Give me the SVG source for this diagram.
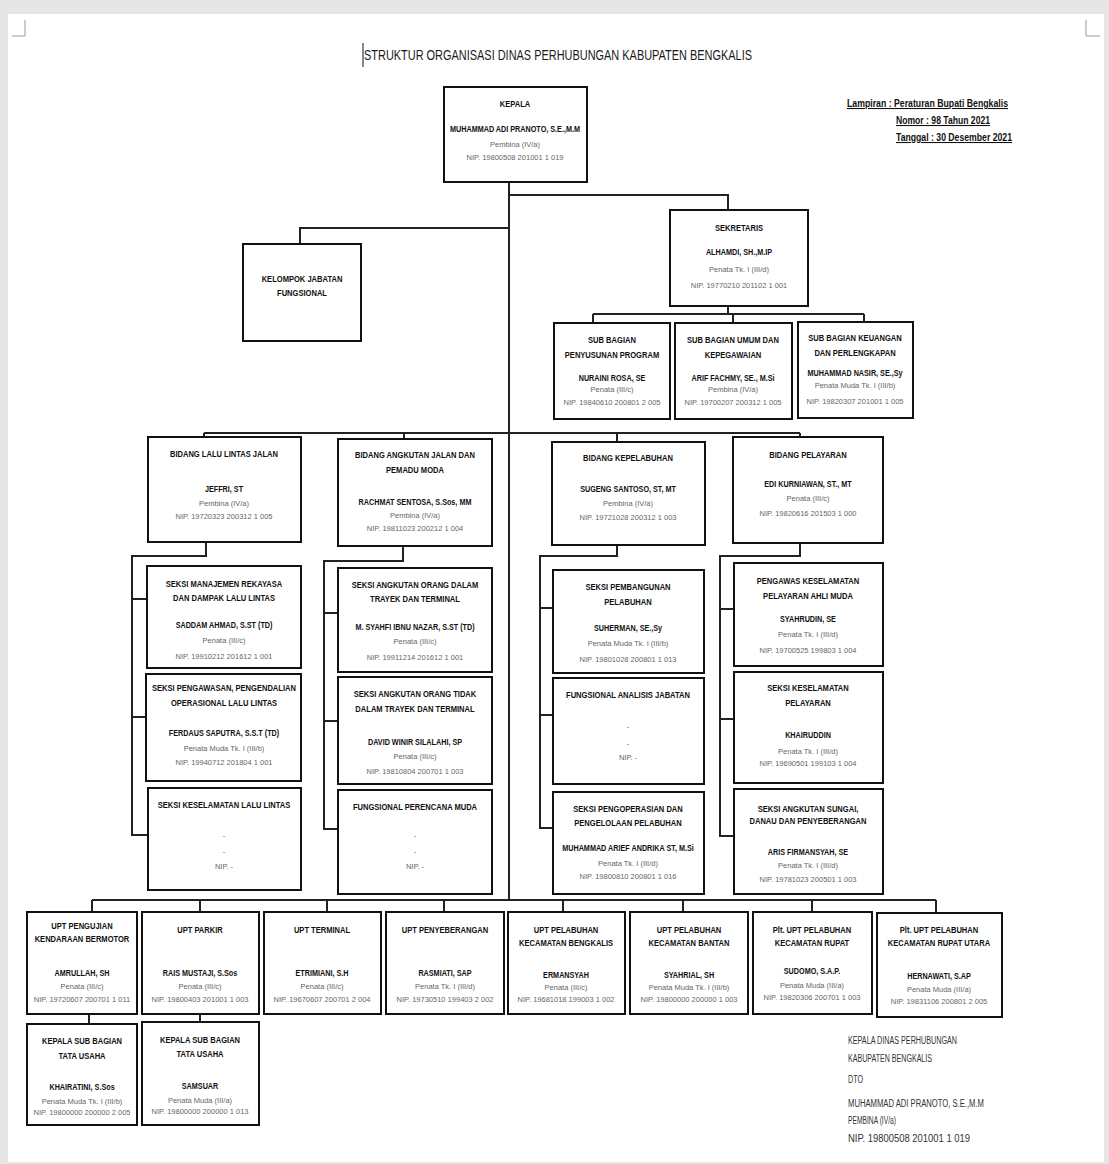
<svg xmlns="http://www.w3.org/2000/svg" width="1109" height="1164" viewBox="0 0 1109 1164">
<style>
.bx{fill:#fff;stroke:#111;stroke-width:2}
.cn{fill:none;stroke:#222;stroke-width:2}
text{font-family:"Liberation Sans Narrow","Liberation Sans",Arial,sans-serif;text-anchor:middle}
.t{font-size:8.8px;font-weight:bold;fill:#111;transform:scaleX(0.86);transform-box:fill-box;transform-origin:center}
.n{font-size:8.4px;font-weight:bold;fill:#111;transform:scaleX(0.86);transform-box:fill-box;transform-origin:center}
.r{font-size:7.5px;fill:#666}
.s{font-size:10px;fill:#333;text-anchor:start}
.l{font-size:10.5px;font-weight:bold;fill:#111;text-anchor:start;text-decoration:underline}
</style>
<rect x="0" y="0" width="1109" height="1164" fill="#e6e6e6"/>
<rect x="8" y="14" width="1096" height="1148" fill="#fff"/>
<path d="M25,20 V36 H12 M1086,20 V36 H1100" fill="none" stroke="#999" stroke-width="1"/>
<line x1="363" y1="43" x2="363" y2="67" stroke="#111" stroke-width="1"/>
<text x="364" y="60" style="font-size:15px;fill:#1a1a1a;text-anchor:start" textLength="388" lengthAdjust="spacingAndGlyphs">STRUKTUR ORGANISASI DINAS PERHUBUNGAN KABUPATEN BENGKALIS</text>
<g id="lampiran">
<text class="l" x="847" y="107" textLength="161" lengthAdjust="spacingAndGlyphs">Lampiran : Peraturan Bupati Bengkalis</text>
<text class="l" x="896" y="124" textLength="94" lengthAdjust="spacingAndGlyphs">Nomor : 98 Tahun 2021</text>
<text class="l" x="896" y="141" textLength="116" lengthAdjust="spacingAndGlyphs">Tanggal : 30 Desember 2021</text>
</g>
<g id="connectors">
<path class="cn" d="M509,182 V900 M509,195 H728 V210 M509,228 H300 V244"/>
<path class="cn" d="M728,306 V314 M593,314 H864 M593,314 V323 M733,314 V323 M864,314 V322"/>
<path class="cn" d="M204,433 H800 M204,433 V437 M404,433 V439 M617,433 V442 M800,433 V437"/>
<path class="cn" d="M206,542 V556 H132 V835 H148 M132,599 H147 M132,717 H146"/>
<path class="cn" d="M403,546 V561 H324 V829 H338 M324,613 H338 M324,721 H338"/>
<path class="cn" d="M617,545 V556 H540 V828 H553 M540,608 H553 M540,715 H553"/>
<path class="cn" d="M800,543 V556 H720 V836 H734 M720,609 H734 M720,719 H734"/>
<path class="cn" d="M92,900 H936 M92,900 V912 M200,900 V912 M327,900 V912 M444,900 V912 M563,900 V912 M683,900 V912 M812,900 V912 M936,900 V912"/>
<path class="cn" d="M89,1014 V1024 M200,1014 V1022"/>
</g>
<g id="kepala"><rect class="bx" x="444" y="87" width="143" height="95"/>
<text class="t" x="515" y="107">KEPALA</text>
<text class="n" x="515" y="132">MUHAMMAD ADI PRANOTO, S.E.,M.M</text>
<text class="r" x="515" y="147">Pembina (IV/a)</text>
<text class="r" x="515" y="160">NIP. 19800508 201001 1 019</text></g>
<g id="sekretaris"><rect class="bx" x="670" y="210" width="138" height="96"/>
<text class="t" x="739" y="231">SEKRETARIS</text>
<text class="n" x="739" y="255">ALHAMDI, SH.,M.IP</text>
<text class="r" x="739" y="272">Penata Tk. I (III/d)</text>
<text class="r" x="739" y="288">NIP. 19770210 201102 1 001</text></g>
<g id="kelompok"><rect class="bx" x="243" y="244" width="118" height="97"/>
<text class="t" x="302" y="282">KELOMPOK JABATAN</text>
<text class="t" x="302" y="296">FUNGSIONAL</text></g>
<g id="sub-program"><rect class="bx" x="554" y="323" width="116" height="96"/>
<text class="t" x="612" y="343">SUB BAGIAN</text>
<text class="t" x="612" y="358">PENYUSUNAN PROGRAM</text>
<text class="n" x="612" y="381">NURAINI ROSA, SE</text>
<text class="r" x="612" y="392">Penata (III/c)</text>
<text class="r" x="612" y="405">NIP. 19840610 200801 2 005</text></g>
<g id="sub-umum"><rect class="bx" x="675" y="323" width="117" height="96"/>
<text class="t" x="733" y="343">SUB BAGIAN UMUM DAN</text>
<text class="t" x="733" y="358">KEPEGAWAIAN</text>
<text class="n" x="733" y="381">ARIF FACHMY, SE., M.Si</text>
<text class="r" x="733" y="392">Pembina (IV/a)</text>
<text class="r" x="733" y="405">NIP. 19700207 200312 1 005</text></g>
<g id="sub-keuangan"><rect class="bx" x="798" y="322" width="115" height="96"/>
<text class="t" x="855" y="341">SUB BAGIAN KEUANGAN</text>
<text class="t" x="855" y="356">DAN PERLENGKAPAN</text>
<text class="n" x="855" y="376">MUHAMMAD NASIR, SE.,Sy</text>
<text class="r" x="855" y="388">Penata Muda Tk. I (III/b)</text>
<text class="r" x="855" y="404">NIP. 19820307 201001 1 005</text></g>
<g id="bidang-lalu-lintas"><rect class="bx" x="148" y="437" width="153" height="105"/>
<text class="t" x="224" y="457">BIDANG LALU LINTAS JALAN</text>
<text class="n" x="224" y="492">JEFFRI, ST</text>
<text class="r" x="224" y="506">Pembina (IV/a)</text>
<text class="r" x="224" y="519">NIP. 19720323 200312 1 005</text></g>
<g id="bidang-angkutan"><rect class="bx" x="338" y="439" width="154" height="107"/>
<text class="t" x="415" y="458">BIDANG ANGKUTAN JALAN DAN</text>
<text class="t" x="415" y="473">PEMADU MODA</text>
<text class="n" x="415" y="505">RACHMAT SENTOSA, S.Sos, MM</text>
<text class="r" x="415" y="518">Pembina (IV/a)</text>
<text class="r" x="415" y="531">NIP. 19811023 200212 1 004</text></g>
<g id="bidang-kepelabuhan"><rect class="bx" x="552" y="442" width="153" height="103"/>
<text class="t" x="628" y="461">BIDANG KEPELABUHAN</text>
<text class="n" x="628" y="492">SUGENG SANTOSO, ST, MT</text>
<text class="r" x="628" y="506">Pembina (IV/a)</text>
<text class="r" x="628" y="520">NIP. 19721028 200312 1 003</text></g>
<g id="bidang-pelayaran"><rect class="bx" x="733" y="437" width="150" height="106"/>
<text class="t" x="808" y="458">BIDANG PELAYARAN</text>
<text class="n" x="808" y="487">EDI KURNIAWAN, ST., MT</text>
<text class="r" x="808" y="501">Penata (III/c)</text>
<text class="r" x="808" y="516">NIP. 19820616 201503 1 000</text></g>
<g id="seksi-manajemen"><rect class="bx" x="147" y="566" width="154" height="102"/>
<text class="t" x="224" y="587">SEKSI MANAJEMEN REKAYASA</text>
<text class="t" x="224" y="601">DAN DAMPAK LALU LINTAS</text>
<text class="n" x="224" y="628">SADDAM AHMAD, S.ST (TD)</text>
<text class="r" x="224" y="643">Penata (III/c)</text>
<text class="r" x="224" y="659">NIP. 19910212 201612 1 001</text></g>
<g id="seksi-pengawasan"><rect class="bx" x="146" y="674" width="155" height="107"/>
<text class="t" x="224" y="691">SEKSI PENGAWASAN, PENGENDALIAN</text>
<text class="t" x="224" y="706">OPERASIONAL LALU LINTAS</text>
<text class="n" x="224" y="736">FERDAUS SAPUTRA, S.S.T (TD)</text>
<text class="r" x="224" y="751">Penata Muda Tk. I (III/b)</text>
<text class="r" x="224" y="765">NIP. 19940712 201804 1 001</text></g>
<g id="seksi-keselamatan-lalu-lintas"><rect class="bx" x="148" y="788" width="153" height="102"/>
<text class="t" x="224" y="808">SEKSI KESELAMATAN LALU LINTAS</text>
<text class="r" x="224" y="838">-</text>
<text class="r" x="224" y="854">-</text>
<text class="r" x="224" y="869">NIP. -</text></g>
<g id="seksi-angkutan-trayek"><rect class="bx" x="338" y="568" width="154" height="104"/>
<text class="t" x="415" y="588">SEKSI ANGKUTAN ORANG DALAM</text>
<text class="t" x="415" y="602">TRAYEK DAN TERMINAL</text>
<text class="n" x="415" y="630">M. SYAHFI IBNU NAZAR, S.ST (TD)</text>
<text class="r" x="415" y="644">Penata (III/c)</text>
<text class="r" x="415" y="660">NIP. 19911214 201612 1 001</text></g>
<g id="seksi-angkutan-tidak-trayek"><rect class="bx" x="338" y="677" width="154" height="107"/>
<text class="t" x="415" y="697">SEKSI ANGKUTAN ORANG TIDAK</text>
<text class="t" x="415" y="712">DALAM TRAYEK DAN TERMINAL</text>
<text class="n" x="415" y="745">DAVID WINIR SILALAHI, SP</text>
<text class="r" x="415" y="759">Penata (III/c)</text>
<text class="r" x="415" y="774">NIP. 19810804 200701 1 003</text></g>
<g id="fungsional-perencana"><rect class="bx" x="338" y="790" width="154" height="104"/>
<text class="t" x="415" y="810">FUNGSIONAL PERENCANA MUDA</text>
<text class="r" x="415" y="838">-</text>
<text class="r" x="415" y="854">-</text>
<text class="r" x="415" y="869">NIP. -</text></g>
<g id="seksi-pembangunan"><rect class="bx" x="553" y="570" width="151" height="103"/>
<text class="t" x="628" y="590">SEKSI PEMBANGUNAN</text>
<text class="t" x="628" y="605">PELABUHAN</text>
<text class="n" x="628" y="631">SUHERMAN, SE.,Sy</text>
<text class="r" x="628" y="646">Penata Muda Tk. I (III/b)</text>
<text class="r" x="628" y="662">NIP. 19801028 200801 1 013</text></g>
<g id="fungsional-analisis"><rect class="bx" x="553" y="678" width="151" height="106"/>
<text class="t" x="628" y="698">FUNGSIONAL ANALISIS JABATAN</text>
<text class="r" x="628" y="729">-</text>
<text class="r" x="628" y="746">-</text>
<text class="r" x="628" y="760">NIP. -</text></g>
<g id="seksi-pengoperasian"><rect class="bx" x="553" y="792" width="151" height="102"/>
<text class="t" x="628" y="812">SEKSI PENGOPERASIAN DAN</text>
<text class="t" x="628" y="826">PENGELOLAAN PELABUHAN</text>
<text class="n" x="628" y="851">MUHAMMAD ARIEF ANDRIKA ST, M.Si</text>
<text class="r" x="628" y="866">Penata Tk. I (III/d)</text>
<text class="r" x="628" y="879">NIP. 19800810 200801 1 016</text></g>
<g id="pengawas-keselamatan"><rect class="bx" x="734" y="563" width="149" height="103"/>
<text class="t" x="808" y="584">PENGAWAS KESELAMATAN</text>
<text class="t" x="808" y="599">PELAYARAN AHLI MUDA</text>
<text class="n" x="808" y="622">SYAHRUDIN, SE</text>
<text class="r" x="808" y="637">Penata Tk. I (III/d)</text>
<text class="r" x="808" y="653">NIP. 19700525 199803 1 004</text></g>
<g id="seksi-keselamatan-pelayaran"><rect class="bx" x="734" y="672" width="149" height="111"/>
<text class="t" x="808" y="691">SEKSI KESELAMATAN</text>
<text class="t" x="808" y="706">PELAYARAN</text>
<text class="n" x="808" y="738">KHAIRUDDIN</text>
<text class="r" x="808" y="754">Penata Tk. I (III/d)</text>
<text class="r" x="808" y="766">NIP. 19690501 199103 1 004</text></g>
<g id="seksi-angkutan-sungai"><rect class="bx" x="734" y="789" width="149" height="105"/>
<text class="t" x="808" y="812">SEKSI ANGKUTAN SUNGAI,</text>
<text class="t" x="808" y="824">DANAU DAN PENYEBERANGAN</text>
<text class="n" x="808" y="855">ARIS FIRMANSYAH, SE</text>
<text class="r" x="808" y="868">Penata Tk. I (III/d)</text>
<text class="r" x="808" y="882">NIP. 19781023 200501 1 003</text></g>
<g id="upt-pengujian"><rect class="bx" x="27" y="912" width="110" height="102"/>
<text class="t" x="82" y="929">UPT PENGUJIAN</text>
<text class="t" x="82" y="942">KENDARAAN BERMOTOR</text>
<text class="n" x="82" y="976">AMRULLAH, SH</text>
<text class="r" x="82" y="989">Penata (III/c)</text>
<text class="r" x="82" y="1002">NIP. 19720607 200701 1 011</text></g>
<g id="upt-parkir"><rect class="bx" x="142" y="912" width="117" height="102"/>
<text class="t" x="200" y="933">UPT PARKIR</text>
<text class="n" x="200" y="976">RAIS MUSTAJI, S.Sos</text>
<text class="r" x="200" y="989">Penata (III/c)</text>
<text class="r" x="200" y="1002">NIP. 19800403 201001 1 003</text></g>
<g id="upt-terminal"><rect class="bx" x="264" y="912" width="117" height="102"/>
<text class="t" x="322" y="933">UPT TERMINAL</text>
<text class="n" x="322" y="976">ETRIMIANI, S.H</text>
<text class="r" x="322" y="989">Penata (III/c)</text>
<text class="r" x="322" y="1002">NIP. 19670607 200701 2 004</text></g>
<g id="upt-penyeberangan"><rect class="bx" x="386" y="912" width="118" height="102"/>
<text class="t" x="445" y="933">UPT PENYEBERANGAN</text>
<text class="n" x="445" y="976">RASMIATI, SAP</text>
<text class="r" x="445" y="989">Penata Tk. I (III/d)</text>
<text class="r" x="445" y="1002">NIP. 19730510 199403 2 002</text></g>
<g id="upt-bengkalis"><rect class="bx" x="508" y="912" width="117" height="102"/>
<text class="t" x="566" y="933">UPT PELABUHAN</text>
<text class="t" x="566" y="946">KECAMATAN BENGKALIS</text>
<text class="n" x="566" y="978">ERMANSYAH</text>
<text class="r" x="566" y="990">Penata (III/c)</text>
<text class="r" x="566" y="1002">NIP. 19681018 199003 1 002</text></g>
<g id="upt-bantan"><rect class="bx" x="630" y="912" width="118" height="102"/>
<text class="t" x="689" y="933">UPT PELABUHAN</text>
<text class="t" x="689" y="946">KECAMATAN BANTAN</text>
<text class="n" x="689" y="978">SYAHRIAL, SH</text>
<text class="r" x="689" y="990">Penata Muda Tk. I (III/b)</text>
<text class="r" x="689" y="1002">NIP. 19800000 200000 1 003</text></g>
<g id="upt-rupat"><rect class="bx" x="753" y="912" width="119" height="102"/>
<text class="t" x="812" y="933">Plt. UPT PELABUHAN</text>
<text class="t" x="812" y="946">KECAMATAN RUPAT</text>
<text class="n" x="812" y="974">SUDOMO, S.A.P.</text>
<text class="r" x="812" y="988">Penata Muda (III/a)</text>
<text class="r" x="812" y="1000">NIP. 19820306 200701 1 003</text></g>
<g id="upt-rupat-utara"><rect class="bx" x="877" y="913" width="125" height="104"/>
<text class="t" x="939" y="933">Plt. UPT PELABUHAN</text>
<text class="t" x="939" y="946">KECAMATAN RUPAT UTARA</text>
<text class="n" x="939" y="979">HERNAWATI, S.AP</text>
<text class="r" x="939" y="992">Penata Muda (III/a)</text>
<text class="r" x="939" y="1004">NIP. 19831106 200801 2 005</text></g>
<g id="kasubag-tu-1"><rect class="bx" x="27" y="1024" width="110" height="101"/>
<text class="t" x="82" y="1044">KEPALA SUB BAGIAN</text>
<text class="t" x="82" y="1059">TATA USAHA</text>
<text class="n" x="82" y="1090">KHAIRATINI, S.Sos</text>
<text class="r" x="82" y="1104">Penata Muda Tk. I (III/b)</text>
<text class="r" x="82" y="1115">NIP. 19800000 200000 2 005</text></g>
<g id="kasubag-tu-2"><rect class="bx" x="142" y="1022" width="117" height="103"/>
<text class="t" x="200" y="1043">KEPALA SUB BAGIAN</text>
<text class="t" x="200" y="1057">TATA USAHA</text>
<text class="n" x="200" y="1089">SAMSUAR</text>
<text class="r" x="200" y="1103">Penata Muda (III/a)</text>
<text class="r" x="200" y="1114">NIP. 19800000 200000 1 013</text></g>
<g id="pengesahan">
<text class="s" x="848" y="1044" textLength="109" lengthAdjust="spacingAndGlyphs">KEPALA DINAS PERHUBUNGAN</text>
<text class="s" x="848" y="1062" textLength="84" lengthAdjust="spacingAndGlyphs">KABUPATEN BENGKALIS</text>
<text class="s" x="848" y="1083" textLength="15" lengthAdjust="spacingAndGlyphs">DTO</text>
<text class="s" x="848" y="1107" textLength="136" lengthAdjust="spacingAndGlyphs">MUHAMMAD ADI PRANOTO, S.E.,M.M</text>
<text class="s" x="848" y="1124" textLength="48" lengthAdjust="spacingAndGlyphs">PEMBINA (IV/a)</text>
<text class="s" x="848" y="1142" textLength="122" lengthAdjust="spacingAndGlyphs">NIP. 19800508 201001 1 019</text>
</g>
</svg>
